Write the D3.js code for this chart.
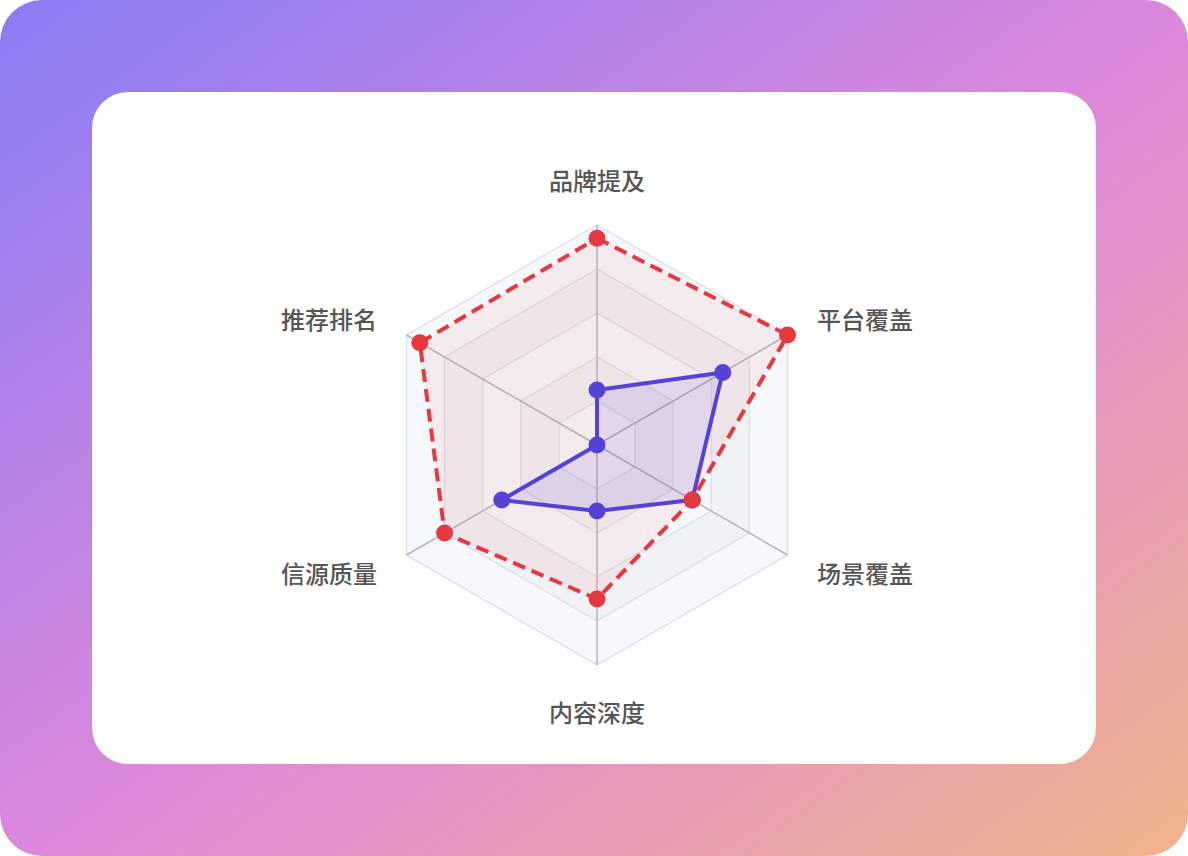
<!DOCTYPE html>
<html>
<head>
<meta charset="utf-8">
<script src="https://cdn.jsdelivr.net/npm/d3@7"></script>
<style>
  html, body { margin: 0; padding: 0; background: #ffffff; }
  svg { display: block; }
</style>
</head>
<body>
<svg id="chart" width="1188" height="856"></svg>
<script>
// ---- data ----
const indicators = ["品牌提及", "平台覆盖", "场景覆盖", "内容深度", "信源质量", "推荐排名"];
const maxValue = 100;
const seriesNames = ["当前", "目标"];
const currentValues = [25, 66, 50, 30, 50, 0];
const targetValues = [94, 100, 50, 70, 80, 93];
const levels = [1, 2, 3, 4, 5];

// ---- layout ----
const W = 1188, H = 856;
const cx = 597, cy = 445, R = 220;
const svg = d3.select("#chart");
const defs = svg.append("defs");

const grad = defs.append("linearGradient").attr("id", "bg")
  .attr("x1", 0).attr("y1", 0).attr("x2", 1).attr("y2", 1);
grad.append("stop").attr("offset", "0%").attr("stop-color", "#887cf5");
grad.append("stop").attr("offset", "52%").attr("stop-color", "#de88da");
grad.append("stop").attr("offset", "100%").attr("stop-color", "#f2b38b");

svg.append("rect").attr("x", 0).attr("y", 0).attr("width", W).attr("height", H)
  .attr("rx", 42).attr("fill", "url(#bg)");
svg.append("rect").attr("x", 92).attr("y", 92).attr("width", 1004).attr("height", 672)
  .attr("rx", 36).attr("fill", "#ffffff");

const g = svg.append("g").attr("transform", `translate(${cx},${cy})`);

const rScale = d3.scaleLinear().domain([0, maxValue]).range([0, R]);
const angle = i => (i / indicators.length) * 2 * Math.PI; // 0 = top, clockwise
const pt = (i, r) => [r * Math.sin(angle(i)), -r * Math.cos(angle(i))];

// split areas (alternating, innermost first)
const areaColors = ["#f7f8fb", "#f1f2f6"];
const ringPath = r => {
  const p = d3.path();
  indicators.forEach((_, i) => { const [x, y] = pt(i, r); i ? p.lineTo(x, y) : p.moveTo(x, y); });
  p.closePath();
  return p.toString();
};
for (let k = levels.length; k >= 1; k--) {
  const rOut = rScale(maxValue * k / levels.length);
  const rIn = rScale(maxValue * (k - 1) / levels.length);
  g.append("path")
    .attr("d", ringPath(rOut) + (k > 1 ? ringPath(rIn) : ""))
    .attr("fill-rule", "evenodd")
    .attr("fill", areaColors[(k - 1) % 2]);
}
// split lines
levels.forEach(k => {
  g.append("path").attr("d", ringPath(rScale(maxValue * k / levels.length)))
    .attr("fill", "none").attr("stroke", "#dfe2ea").attr("stroke-width", 1.5);
});
// axis lines
indicators.forEach((_, i) => {
  const [x, y] = pt(i, R);
  g.append("line").attr("x1", 0).attr("y1", 0).attr("x2", x).attr("y2", y)
    .attr("stroke", "#b6b6ba").attr("stroke-width", 1.5);
});

// series
const radial = d3.lineRadial()
  .angle((d, i) => angle(i))
  .radius(d => rScale(d))
  .curve(d3.curveLinearClosed);

function drawSeries(values, color, fill, dashed) {
  g.append("path").attr("d", radial(values))
    .attr("fill", fill)
    .attr("stroke", color).attr("stroke-width", 4)
    .attr("stroke-linejoin", "round")
    .attr("stroke-dasharray", dashed ? "13,7" : null);
  g.selectAll(null).data(values).enter().append("circle")
    .attr("cx", (d, i) => pt(i, rScale(d))[0])
    .attr("cy", (d, i) => pt(i, rScale(d))[1])
    .attr("r", 8.5).attr("fill", color);
}
drawSeries(currentValues, "#4a44e2", "rgba(79,70,229,0.12)", false);
drawSeries(targetValues, "#e5393f", "rgba(229,57,63,0.07)", true);

// labels
const labelR = R + 34;
indicators.forEach((name, i) => {
  const [x, y] = pt(i, labelR);
  let anchor = "middle", dy = 0;
  if (Math.abs(x) < 1) { dy = y < 0 ? -12 : 12; }
  else anchor = x > 0 ? "start" : "end";
  g.append("text").attr("x", x).attr("y", y + dy)
    .attr("text-anchor", anchor)
    .attr("dominant-baseline", "central")
    .attr("font-family", "'Noto Sans CJK SC', 'Noto Sans', sans-serif")
    .attr("font-size", 24)
    .attr("font-weight", 500)
    .attr("fill", "#555555")
    .text(name);
});
</script>
</body>
</html>
